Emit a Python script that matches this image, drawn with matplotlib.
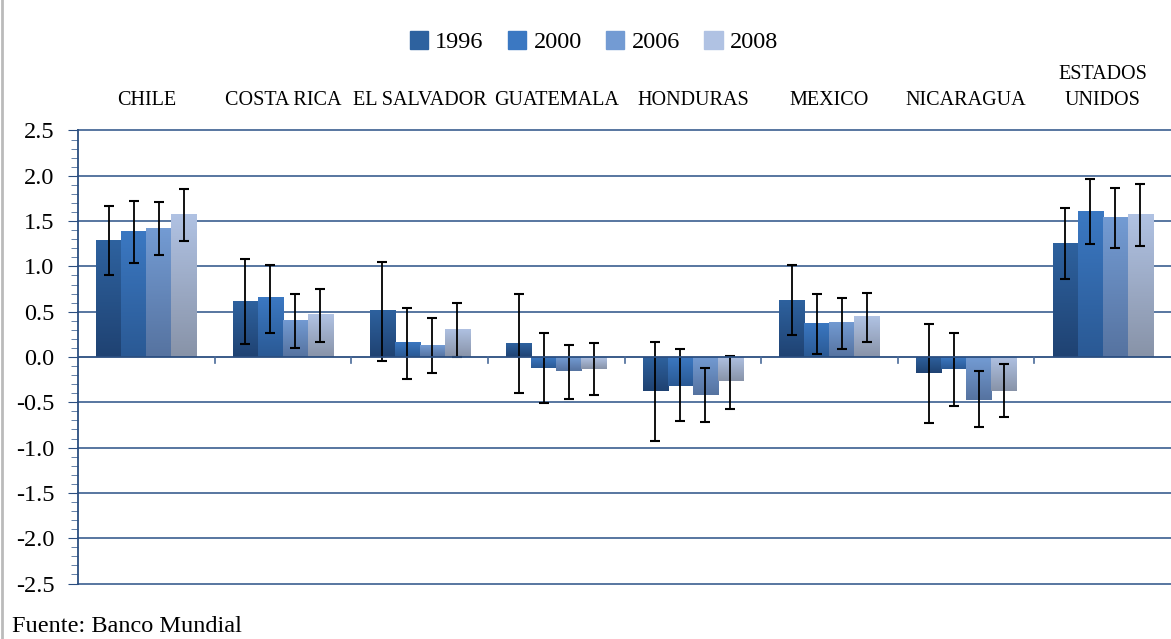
import matplotlib
matplotlib.use("Agg")
import matplotlib.pyplot as plt
import numpy as np
from matplotlib.colors import LinearSegmentedColormap
from matplotlib.ticker import MultipleLocator

countries = ["CHILE", "COSTA RICA", "EL SALVADOR", "GUATEMALA", "HONDURAS",
             "MEXICO", "NICARAGUA", "ESTADOS\nUNIDOS"]
years = ["1996", "2000", "2006", "2008"]

v1996 = [1.29, 0.62, 0.52, 0.15, -0.38, 0.63, -0.18, 1.26]
v2000 = [1.39, 0.66, 0.17, -0.12, -0.32, 0.38, -0.13, 1.61]
v2006 = [1.42, 0.41, 0.13, -0.15, -0.42, 0.39, -0.47, 1.54]
v2008 = [1.58, 0.47, 0.31, -0.13, -0.27, 0.45, -0.38, 1.58]

hi1996 = [1.67, 1.08, 1.05, 0.69, 0.17, 1.02, 0.36, 1.64]
lo1996 = [0.90, 0.14, -0.04, -0.40, -0.93, 0.24, -0.73, 0.86]
hi2000 = [1.72, 1.02, 0.54, 0.27, 0.09, 0.69, 0.26, 1.97]
lo2000 = [1.04, 0.27, -0.24, -0.51, -0.71, 0.03, -0.54, 1.25]
hi2006 = [1.71, 0.70, 0.43, 0.13, -0.12, 0.65, -0.16, 1.86]
lo2006 = [1.13, 0.10, -0.18, -0.46, -0.72, 0.09, -0.77, 1.20]
hi2008 = [1.85, 0.75, 0.60, 0.15, 0.01, 0.71, -0.08, 1.91]
lo2008 = [1.28, 0.17, 0.00, -0.42, -0.57, 0.17, -0.66, 1.23]

values = [v1996, v2000, v2006, v2008]
highs = [hi1996, hi2000, hi2006, hi2008]
lows = [lo1996, lo2000, lo2006, lo2008]

# gradient colours (top, bottom)
grads = [("#2E629F", "#1F4272"),
         ("#3B78C2", "#2A5994"),
         ("#739BD3", "#5673A0"),
         ("#B0C2E3", "#8893A8")]

plt.rcParams['font.family'] = ['Liberation Serif', 'DejaVu Serif']

fig = plt.figure(figsize=(11.71, 6.39), dpi=100)
ax = fig.add_axes([78/1171, 1-583.5/639, 1-78/1171, (583.5-130.5)/639])

n = len(countries)
x = np.arange(n)
bw = 0.183
offsets = (np.arange(4) - 1.5) * bw

legend_handles = []
for i in range(4):
    bars = ax.bar(x + offsets[i], values[i], width=bw, color=grads[i][0],
                  zorder=3, linewidth=0)
    cmap = LinearSegmentedColormap.from_list("g%d" % i, [grads[i][1], grads[i][0]])
    for b in bars:
        bx, by = b.get_x(), b.get_y()
        bwid, bh = b.get_width(), b.get_height()
        y0, y1 = min(by, by + bh), max(by, by + bh)
        grad = np.linspace(0, 1, 64).reshape(-1, 1)
        im = ax.imshow(grad, extent=(bx, bx + bwid, y0, y1), origin="lower",
                       aspect="auto", cmap=cmap, zorder=3.1)
        im.set_clip_path(b)
    v = np.array(values[i])
    yerr = np.vstack([v - np.array(lows[i]), np.array(highs[i]) - v])
    ax.errorbar(x + offsets[i], v, yerr=yerr, fmt="none", ecolor="black",
                elinewidth=1.3, capsize=3.5, capthick=1.5, zorder=4)
    legend_handles.append(plt.Rectangle((0, 0), 1, 1, color=grads[i][0]))

ax.set_xlim(-0.5, n - 0.5)
ax.set_ylim(-2.5, 2.5)

# gridlines
for yv in np.arange(-2.5, 2.51, 0.5):
    if abs(yv) < 1e-9:
        continue
    ax.axhline(yv, color="#4A6B99", linewidth=1.3, zorder=1, clip_on=False)
ax.axhline(0, color="#2B4E80", linewidth=1.3, zorder=5)

# spines
for s in ["top", "right", "bottom"]:
    ax.spines[s].set_visible(False)
ax.spines["left"].set_color("#2B4E80")
ax.spines["left"].set_linewidth(1.3)

ax.yaxis.set_major_locator(MultipleLocator(0.5))
ax.yaxis.set_minor_locator(MultipleLocator(0.1))
ax.tick_params(axis="y", which="major", direction="out", length=7, color="#2B4E80",
               labelsize=17.5, pad=10)
ax.tick_params(axis="y", which="minor", direction="out", length=5, color="#4A6B99")
ax.set_yticklabels([f"{t:.1f}" for t in ax.get_yticks()])
ax.set_xticks([])

# group boundary ticks on zero line
for k in range(1, n):
    ax.plot([k - 0.5, k - 0.5], [0, -0.07], color="#4A6B99", linewidth=1.2,
            zorder=5, clip_on=False)

# category labels above the plot
for k, c in enumerate(countries):
    ax.text(k, 2.73, c, ha="center", va="bottom", fontsize=14.5, linespacing=1.45)

leg = fig.legend(legend_handles, years, loc="center", bbox_to_anchor=(594/1171, 1-42/639),
                 ncol=4, frameon=False, fontsize=17.5, handlelength=0.75, handleheight=0.75,
                 handletextpad=0.3, columnspacing=1.0)

fig.text(12/1171, 1-626/639, "Fuente: Banco Mundial", fontsize=17.5, ha="left", va="center")

# thin grey border on left
fig.add_artist(plt.Line2D([1.5/1171, 1.5/1171], [0, 1], color="#BBBBBB", linewidth=2))

fig.savefig("out.png", dpi=100)
